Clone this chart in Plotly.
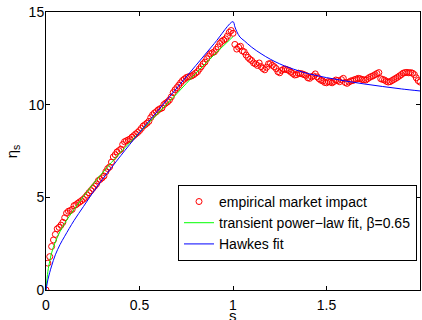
import plotly.graph_objects as go

# ---- data ----
emp_s = [round(i * 0.01, 2) for i in range(201)]
emp_eta = [
    0.0, 1.45, 1.8, 2.35, 2.7, 3.0, 3.3, 3.38, 3.5, 3.65,
    3.9, 4.15, 4.25, 4.28, 4.35, 4.55, 4.6, 4.68, 4.75, 4.82,
    4.9, 5.0, 5.12, 5.25, 5.36, 5.48, 5.6, 5.72, 5.9, 5.97,
    6.05, 6.15, 6.38, 6.55, 6.64, 6.9, 7.18, 7.3, 7.45, 7.52,
    7.6, 7.85, 8.0, 8.05, 8.1, 8.15, 8.25, 8.33, 8.42, 8.5,
    8.6, 8.72, 8.85, 8.92, 9.0, 9.1, 9.3, 9.45, 9.55, 9.62,
    9.72, 9.78, 9.82, 10.0, 10.08, 10.15, 10.25, 10.42, 10.65, 10.8,
    10.92, 11.05, 11.18, 11.3, 11.38, 11.46, 11.5, 11.52, 11.56, 11.62,
    11.7, 11.78, 11.92, 12.05, 12.2, 12.3, 12.48, 12.62, 12.75, 12.8,
    12.85, 12.98, 13.12, 13.3, 13.42, 13.48, 13.55, 13.7, 13.9, 14.0,
    13.85,
    13.25, 13.0, 13.1, 13.15, 12.9, 12.85, 12.68, 12.55, 12.45, 12.38,
    12.25, 12.2, 12.12, 12.25, 12.05, 11.95, 11.88, 12.02, 12.2, 12.22,
    12.12, 12.05, 11.95, 11.78, 11.72, 11.85, 11.9, 11.92, 11.88, 11.84,
    11.75, 11.68, 11.6, 11.62, 11.7, 11.68, 11.66, 11.62, 11.58, 11.45,
    11.42, 11.5, 11.55, 11.66, 11.5, 11.4, 11.32, 11.28, 11.2, 11.18,
    11.25, 11.22, 11.18, 11.25, 11.33, 11.3, 11.24, 11.35, 11.42, 11.2,
    11.15, 11.22, 11.28, 11.3, 11.35, 11.38, 11.42, 11.4, 11.36, 11.34,
    11.33, 11.4, 11.47, 11.52, 11.56, 11.62, 11.68, 11.73, 11.4, 11.36,
    11.33, 11.26, 11.22, 11.24, 11.3, 11.36, 11.42, 11.48, 11.55, 11.62,
    11.7, 11.73, 11.74, 11.72, 11.73, 11.7, 11.62, 11.45, 11.3, 11.22,
]

pl_s = [0, 0.01, 0.02, 0.03, 0.05, 0.075, 0.1, 0.15, 0.2, 0.25, 0.3, 0.35,
        0.4, 0.5, 0.6, 0.7, 0.8, 0.9, 1.0]
pl_eta = [0, 1.0, 1.55, 2.0, 2.6, 3.15, 3.6, 4.35, 5.05, 5.7, 6.3, 6.88,
          7.44, 8.5, 9.55, 10.6, 11.68, 12.7, 13.67]

hk_s = [0, 0.01, 0.02, 0.03, 0.05, 0.075, 0.1, 0.15, 0.2, 0.25, 0.3, 0.35,
        0.4, 0.5, 0.6, 0.7, 0.8, 0.9, 1.0,
        1.01, 1.02, 1.037, 1.06, 1.1, 1.15, 1.2, 1.25, 1.3, 1.4, 1.5,
        1.6, 1.7, 1.8, 1.9, 2.0]
hk_eta = [0, 0.55, 0.95, 1.3, 1.9, 2.45, 2.9, 3.75, 4.5, 5.25, 5.95, 6.6,
          7.25, 8.5, 9.7, 10.9, 12.1, 13.3, 14.48,
          14.2, 13.95, 13.65, 13.45, 13.1, 12.75, 12.45, 12.2, 12.0, 11.68, 11.46,
          11.28, 11.12, 10.98, 10.85, 10.74]

x_ticks = [0, 0.5, 1, 1.5, 2]
x_tick_text = ["0", "0.5", "1", "1.5", "2"]
y_ticks = [0, 5, 10, 15]
y_tick_text = ["0", "5", "10", "15"]

FONT = "Liberation Sans, Arial, Helvetica, sans-serif"

fig = go.Figure()
fig.add_trace(go.Scatter(
    x=emp_s, y=emp_eta, mode="markers", name="empirical market impact",
    marker=dict(symbol="circle-open", size=6, color="#ff0000",
                line=dict(width=1, color="#ff0000")),
))
fig.add_trace(go.Scatter(
    x=pl_s, y=pl_eta, mode="lines", name="transient power\u2212law fit, \u03b2=0.65",
    line=dict(color="#00ff00", width=1, shape="spline"),
))
fig.add_trace(go.Scatter(
    x=hk_s, y=hk_eta, mode="lines", name="Hawkes fit",
    line=dict(color="#0000ff", width=1, shape="spline"),
))

axis_common = dict(
    showgrid=False, zeroline=False, showline=True, linecolor="black",
    linewidth=1, mirror="ticks", ticks="inside", ticklen=4,
    tickcolor="black", tickwidth=1,
    tickfont=dict(family=FONT, size=14, color="black"),
)

fig.update_layout(
    width=422, height=320,
    margin=dict(l=46, r=2, t=12, b=30),
    paper_bgcolor="white", plot_bgcolor="white",
    font=dict(family=FONT, size=14, color="black"),
    xaxis=dict(range=[0, 2], tickvals=x_ticks, ticktext=x_tick_text,
               ticklabelstandoff=2, **axis_common),
    yaxis=dict(range=[0, 15], tickvals=y_ticks, ticktext=y_tick_text,
               ticklabelstandoff=-2, **axis_common),
    showlegend=True,
    legend=dict(
        x=0.992, y=0.378, xanchor="right", yanchor="top",
        bgcolor="white", bordercolor="black", borderwidth=1,
        font=dict(family=FONT, size=14, color="black"),
        itemwidth=30, tracegroupgap=0,
    ),
    annotations=[
        dict(text="\u03b7<sub>s</sub>", xref="paper", yref="paper",
             x=-0.09, y=0.5, xanchor="center", yanchor="middle",
             textangle=-90, showarrow=False,
             font=dict(family=FONT, size=15)),
        dict(text="s", xref="paper", yref="paper", x=0.5, y=-0.092,
             xanchor="center", yanchor="middle", showarrow=False,
             font=dict(family=FONT, size=15)),
    ],
)

fig.write_html("out.html", config={"displayModeBar": False},
               post_script="document.body.style.margin='0';document.body.style.padding='0';")
